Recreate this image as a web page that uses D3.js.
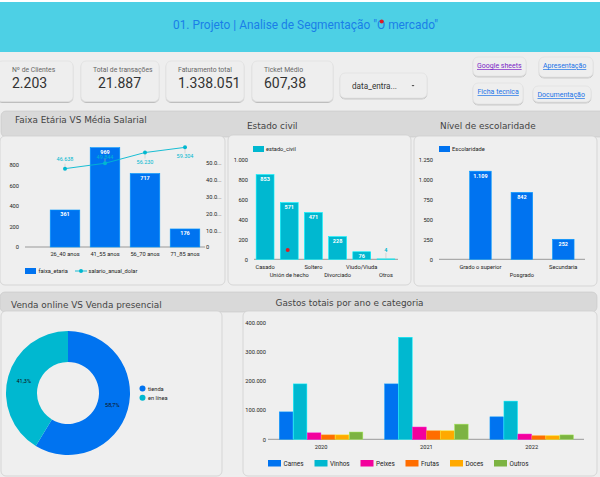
<!DOCTYPE html>
<html>
<head>
<meta charset="utf-8">
<script src="https://cdn.jsdelivr.net/npm/d3@7"></script>
<style>
  html, body { margin: 0; padding: 0; background: #eeeeee; }
  svg { display: block; }
  text { font-family: Roboto, sans-serif; }
  .tick-label { font-size: 5.7px; fill: #222; }
  .bar-label { font-size: 5.5px; fill: #fff; font-weight: 700; text-anchor: middle; }
  .band-title { font-family: "DejaVu Sans", sans-serif; font-size: 8.9px; fill: #444; }
  .axis path, .axis line { display: none; }
</style>
</head>
<body>
<div id="chart"></div>
<script>
// data
var kpiLabels = ["Nº de Clientes", "Total de transações", "Faturamento total", "Ticket Médio"];
var kpiValues = ["2.203", "21.887", "1.338.051", "607,38"];

var ageGroups = ["26_40 anos", "41_55 anos", "56_70 anos", "71_85 anos"];
var ageCounts = [361, 969, 717, 176];
var ageSalary = [46638, 49844, 56230, 59304];

var civilStatus = ["Casado", "Unión de hecho", "Soltero", "Divorciado", "Viudo/Viuda", "Otros"];
var civilCounts = [853, 571, 471, 228, 76, 4];

var schooling = ["Grado o superior", "Posgrado", "Secundaria"];
var schoolingCounts = [1109, 842, 252];

var channels = ["tienda", "en línea"];
var channelShare = [58.7, 41.3];

var years = ["2020", "2021", "2022"];
var categories = ["Carnes", "Vinhos", "Peixes", "Frutas", "Doces", "Outros"];
var spend2020 = [94000, 190000, 22000, 15000, 15000, 25000];
var spend2021 = [190000, 350000, 42000, 29000, 29000, 52000];
var spend2022 = [77000, 131000, 18000, 12000, 12000, 15000];

var blue = "#0073f0", teal = "#00b8d0";
var categoryColors = [blue, teal, "#f3009c", "#ff6d00", "#ffa900", "#7cb342"];
var fmt = d3.format(",d");
var ptBR = function(v){ return fmt(v).replace(/,/g, "."); };

var svg = d3.select("#chart").append("svg")
  .attr("width", 600).attr("height", 477);

var defs = svg.append("defs");
var shadow = defs.append("filter").attr("id", "soft")
  .attr("x", "-10%").attr("y", "-10%").attr("width", "120%").attr("height", "130%");
shadow.append("feDropShadow").attr("dx", 0).attr("dy", 1).attr("stdDeviation", 0.7)
  .attr("flood-color", "#000").attr("flood-opacity", 0.25);

svg.append("rect").attr("width", 600).attr("height", 477).attr("fill", "#eeeeee");
svg.append("rect").attr("width", 600).attr("height", 2).attr("fill", "#fff");

// header
svg.append("rect").attr("y", 2).attr("width", 600).attr("height", 50).attr("fill", "#4dd0e5");
svg.append("text").attr("x", 305.5).attr("y", 29).attr("text-anchor", "middle")
  .style("font-size", "11.9px").attr("fill", "#1a7fe8")
  .text('01. Projeto | Analise de Segmentação "O mercado"');
svg.append("circle").attr("cx", 381.7).attr("cy", 21.5).attr("r", 2).attr("fill", "#e01b24");

function card(x, y, w, h, r){
  return svg.append("rect").attr("x", x).attr("y", y).attr("width", w).attr("height", h)
    .attr("rx", r).attr("fill", "#eeeeee").attr("stroke", "#dedede").attr("stroke-width", 0.6)
    .attr("filter", "url(#soft)");
}

// kpi cards
var kpiX = [-3, 81, 166, 252];
var kpiW = [76, 78, 78, 81];
var kpiTextX = [12, 93, 178, 264];
kpiLabels.forEach(function(l, i){
  card(kpiX[i], 61, kpiW[i], 40.5, 5);
  svg.append("text").attr("x", kpiTextX[i]).attr("y", 72).style("font-size", "6.8px").attr("fill", "#666").text(l);
  svg.append("text").attr("x", i == 1 ? 98 : kpiTextX[i]).attr("y", 87.5).style("font-size", "14px").attr("fill", "#333").text(kpiValues[i]);
});

// dropdown
card(340, 73, 87, 25, 5);
svg.append("text").attr("x", 352).attr("y", 89).style("font-size", "8.2px").attr("fill", "#333").text("data_entra...");
svg.append("path").attr("d", d3.line()([[411.5, 85], [414.5, 85], [413, 86.6]])).attr("fill", "#444");

// link buttons
var links = [
  {t: "Google sheets", x: 473, y: 57, w: 53, h: 19, c: "#7b1fc7", tx: 477, ty: 68},
  {t: "Apresentação", x: 539, y: 57, w: 54, h: 20, c: "#1a73e8", tx: 543, ty: 68},
  {t: "Ficha tecnica", x: 473, y: 83, w: 50, h: 21, c: "#1a73e8", tx: 477.5, ty: 94},
  {t: "Documentação", x: 533, y: 86, w: 58, h: 16, c: "#1a73e8", tx: 537.5, ty: 97}
];
links.forEach(function(d){
  card(d.x, d.y, d.w, d.h, 5);
  svg.append("text").attr("x", d.tx).attr("y", d.ty).style("font-size", "7px")
    .attr("fill", d.c).attr("text-decoration", "underline").text(d.t);
});

// grey title bands
function band(x, y, w, h){
  svg.append("rect").attr("x", x).attr("y", y).attr("width", w).attr("height", h)
    .attr("rx", 5).attr("fill", "#d9d9d9").attr("stroke", "#c6c6c6").attr("stroke-width", 0.6);
}
band(1, 111, 605, 26);
band(0, 292, 597, 20);

// panels
function panel(x, y, w, h){
  svg.append("rect").attr("x", x).attr("y", y).attr("width", w).attr("height", h)
    .attr("rx", 5).attr("fill", "#efefef").attr("stroke", "#cfcfcf").attr("stroke-width", 0.8);
}
panel(0, 136, 225, 149);
panel(228, 135, 183, 150);
panel(414, 136, 183, 150);
panel(1, 311, 221, 165);
panel(243, 311, 354, 165);

[["Faixa Etária VS Média Salarial", 15, 123], ["Estado civil", 247, 129], ["Nível de escolaridade", 440, 129],
 ["Venda online VS Venda presencial", 11, 308], ["Gastos totais por ano e categoria", 275.5, 306]].forEach(function(d){
  svg.append("text").attr("class", "band-title").attr("x", d[1]).attr("y", d[2]).text(d[0]);
});

function yAxis(scale, x, values, anchor, format){
  var dx = anchor == "end" ? -6 : 6;
  var axis = (anchor == "end" ? d3.axisLeft(scale) : d3.axisRight(scale))
    .tickValues(values).tickSize(0).tickPadding(0).tickFormat(format || ptBR);
  var g = svg.append("g").attr("class", "axis").attr("transform", "translate(" + (x + dx) + ",0)").call(axis);
  g.selectAll("text").attr("class", "tick-label");
  return g;
}

function baseline(x0, x1, y){
  svg.append("line").attr("x1", x0).attr("x2", x1).attr("y1", y).attr("y2", y)
    .attr("stroke", "#999").attr("stroke-width", 1);
}

function bars(names, values, x, y, color){
  svg.append("g").selectAll("rect").data(values).enter().append("rect")
    .attr("x", (d, i) => x(names[i]))
    .attr("y", d => y(d))
    .attr("width", x.bandwidth())
    .attr("height", d => y(0) - y(d))
    .attr("fill", color)
    .attr("stroke", d3.color(color).brighter(0.8))
    .attr("stroke-width", 0.6);
  // very short bars get their label above, with a leader line
  var small = d => y(0) - y(d) < 6;
  svg.append("g").selectAll("text").data(values).enter().append("text")
    .attr("class", "bar-label")
    .attr("x", (d, i) => x(names[i]) + x.bandwidth() / 2)
    .attr("y", d => small(d) ? y(d) - 7 : y(d) + 6.5)
    .style("fill", d => small(d) ? color : null)
    .text(d => ptBR(d));
  svg.append("g").selectAll("line").data(values).enter().filter(small).append("line")
    .attr("x1", (d, i) => x(names[values.indexOf(d)]) + x.bandwidth() / 2)
    .attr("x2", (d, i) => x(names[values.indexOf(d)]) + x.bandwidth() / 2)
    .attr("y1", d => y(d) - 6)
    .attr("y2", d => y(d))
    .attr("stroke", "#bbb").attr("stroke-width", 0.5);
}

function xLabels(names, x, y, stagger){
  svg.append("g").selectAll("text").data(names).enter().append("text")
    .attr("class", "tick-label").attr("text-anchor", "middle")
    .attr("x", d => x(d) + x.bandwidth() / 2)
    .attr("y", (d, i) => y + (stagger && i % 2 ? 8 : 0))
    .text(d => d);
}

// chart 1: age groups with salary line
var x1 = d3.scaleBand().domain(ageGroups).range([45, 205]).paddingInner(0.26).paddingOuter(0.13);
var y1 = d3.scaleLinear().domain([0, 800]).range([247, 165]);
var y1r = d3.scaleLinear().domain([0, 50000]).range([247, 163]);
yAxis(y1, 25, [0, 200, 400, 600, 800], "end");
yAxis(y1r, 200, [0, 10000, 20000, 30000, 40000, 50000], "start", d => d == 0 ? "0" : (d / 1000) + ".0...");
baseline(25, 205, 247);
bars(ageGroups, ageCounts, x1, y1, blue);
xLabels(ageGroups, x1, 256);

var lineX = d => x1(d) + x1.bandwidth() / 2;
svg.append("path").datum(ageSalary)
  .attr("fill", "none").attr("stroke", teal).attr("stroke-width", 0.9)
  .attr("d", d3.line().x((d, i) => lineX(ageGroups[i])).y(d => y1r(d)));
ageSalary.forEach(function(v, i){
  var cx = lineX(ageGroups[i]), cy = y1r(v);
  var above = i < 2;
  var labelY = above ? cy - 8 : cy + 11;
  if (i == 1) labelY = cy - 4.5;
  svg.append("line").attr("x1", cx).attr("x2", cx).attr("y1", cy).attr("y2", above ? cy - 5 : cy + 6)
    .attr("stroke", "#bbb").attr("stroke-width", 0.5);
  svg.append("circle").attr("cx", cx).attr("cy", cy).attr("r", 2).attr("fill", teal);
  svg.append("text").attr("x", cx).attr("y", labelY).attr("text-anchor", "middle")
    .style("font-size", "5.5px").attr("fill", teal).text(ptBR(v));
});
svg.append("rect").attr("x", 25).attr("y", 268).attr("width", 11).attr("height", 6).attr("fill", blue);
svg.append("text").attr("class", "tick-label").attr("x", 38.5).attr("y", 273).text("faixa_etaria");
svg.append("line").attr("x1", 75).attr("x2", 87).attr("y1", 271).attr("y2", 271).attr("stroke", teal).attr("stroke-width", 0.9);
svg.append("circle").attr("cx", 81).attr("cy", 271).attr("r", 2).attr("fill", teal);
svg.append("text").attr("class", "tick-label").attr("x", 88.5).attr("y", 273).text("salario_anual_dolar");

// chart 2: marital status
var x2 = d3.scaleBand().domain(civilStatus).range([253, 398]).paddingInner(0.26).paddingOuter(0.13);
var y2 = d3.scaleLinear().domain([0, 1000]).range([259.3, 160]);
yAxis(y2, 254, [0, 200, 400, 600, 800, 1000], "end");
baseline(254, 398, 259.3);
bars(civilStatus, civilCounts, x2, y2, teal);
xLabels(civilStatus, x2, 269, true);
svg.append("rect").attr("x", 253).attr("y", 146).attr("width", 11).attr("height", 6).attr("fill", teal);
svg.append("text").attr("class", "tick-label").attr("x", 266).attr("y", 151).text("estado_civil");
svg.append("circle").attr("cx", 287.7).attr("cy", 250).attr("r", 2).attr("fill", "#e01b24");

// chart 3: schooling
var x3 = d3.scaleBand().domain(schooling).range([459.75, 584]).paddingInner(0.48).paddingOuter(0.24);
var y3 = d3.scaleLinear().domain([0, 1250]).range([259.3, 160]);
yAxis(y3, 439, [0, 250, 500, 750, 1000, 1250], "end");
baseline(439, 585, 259.3);
bars(schooling, schoolingCounts, x3, y3, blue);
xLabels(schooling, x3, 269, true);
svg.append("rect").attr("x", 439).attr("y", 146).attr("width", 11).attr("height", 6).attr("fill", blue);
svg.append("text").attr("class", "tick-label").attr("x", 452).attr("y", 151).text("Escolaridade");

// donut
var pie = d3.pie().sort(null).value(d => d);
var arc = d3.arc().innerRadius(31).outerRadius(62);
var donut = svg.append("g").attr("transform", "translate(68,393)");
donut.selectAll("path").data(pie(channelShare)).enter().append("path")
  .attr("d", arc).attr("fill", (d, i) => i == 0 ? blue : teal);
donut.selectAll("text").data(pie(channelShare)).enter().append("text")
  .attr("transform", d => "translate(" + d3.arc().innerRadius(46).outerRadius(46).centroid(d) + ")")
  .attr("text-anchor", "middle").attr("y", 2)
  .style("font-size", "5.5px").attr("fill", "#111")
  .text(d => String(d.data).replace(".", ",") + "%");
channels.forEach(function(c, i){
  svg.append("circle").attr("cx", 142.5).attr("cy", 388.5 + i * 9.2).attr("r", 3).attr("fill", i == 0 ? blue : teal);
  svg.append("text").attr("class", "tick-label").attr("x", 148).attr("y", 391 + i * 9).text(c);
});

// chart 5: spend by year and category
var spendByYear = [spend2020, spend2021, spend2022];
var x5 = d3.scaleBand().domain(years).range([268.8, 584]).paddingInner(0.207).paddingOuter(0.1);
var x5c = d3.scaleBand().domain(categories).range([0, x5.bandwidth()]).paddingInner(0.03);
var y5 = d3.scaleLinear().domain([0, 400000]).range([439.3, 322.7]);
yAxis(y5, 272, [0, 100000, 200000, 300000, 400000], "end");
baseline(268, 584, 439.3);
years.forEach(function(yr, j){
  svg.append("g").attr("transform", "translate(" + x5(yr) + ",0)")
    .selectAll("rect").data(spendByYear[j]).enter().append("rect")
    .attr("x", (d, i) => x5c(categories[i]))
    .attr("y", d => y5(d))
    .attr("width", x5c.bandwidth())
    .attr("height", d => y5(0) - y5(d))
    .attr("fill", (d, i) => categoryColors[i])
    .attr("stroke", (d, i) => d3.color(categoryColors[i]).brighter(0.8))
    .attr("stroke-width", 0.5);
});
xLabels(years, x5, 449);
var legendX = [268, 314.5, 360.5, 405.5, 450, 494];
categories.forEach(function(c, i){
  svg.append("rect").attr("x", legendX[i]).attr("y", 460).attr("width", 13).attr("height", 6.5).attr("fill", categoryColors[i]);
  svg.append("text").attr("x", legendX[i] + 15.5).attr("y", 466).style("font-size", "6.4px").attr("fill", "#222").text(c);
});
</script>
</body>
</html>
